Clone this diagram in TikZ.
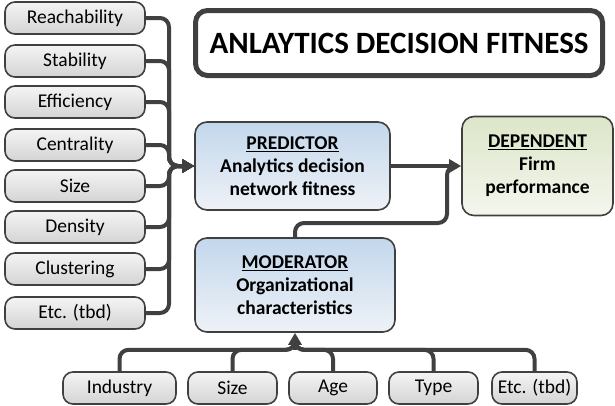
\documentclass[tikz,border=0pt]{standalone}
\usepackage{fontspec}
\setmainfont{Carlito}
\usetikzlibrary{arrows.meta, positioning}

\definecolor{edgegray}{HTML}{404040}
\definecolor{itemtop}{HTML}{F4F4F4}
\definecolor{itembot}{HTML}{D4D4D4}
\definecolor{bluetop}{HTML}{C3D7EC}
\definecolor{bluebot}{HTML}{EEF2F7}
\definecolor{greentop}{HTML}{DCE6C8}
\definecolor{greenbot}{HTML}{F4F6EE}

\begin{document}
\begin{tikzpicture}[x=1pt,y=-1pt,>={Triangle[length=12pt,width=13pt]},
    item/.style={draw=edgegray,line width=1.6pt,rounded corners=10pt,
        top color=itemtop,bottom color=itembot,
        minimum width=140pt,minimum height=32pt,inner sep=0pt,
        font=\fontsize{19.5}{23}\selectfont},
    factor/.style={draw=edgegray,line width=1.6pt,rounded corners=12pt,
        align=center,inner sep=0pt,font=\bfseries\fontsize{19.5}{23}\selectfont},
    link/.style={draw=edgegray,line width=4pt,rounded corners=9pt}]

  \useasboundingbox (0,0) rectangle (615,405);

  % heading
  \node[draw=edgegray,line width=5pt,rounded corners=12pt,fill=white,
        minimum width=407pt,minimum height=65pt,
        font=\bfseries\fontsize{31}{36}\selectfont] (title) at (399,43)
        {ANLAYTICS DECISION FITNESS};

  % network measures
  \node[item] (reach)   at (75,18)  {Reachability};
  \node[item] (stab)    at (75,61)  {Stability};
  \node[item] (effic)   at (75,102) {Efficiency};
  \node[item] (centr)   at (75,145) {Centrality};
  \node[item] (netsize) at (75,186) {Size};
  \node[item] (dens)    at (75,227) {Density};
  \node[item] (clust)   at (75,269) {Clustering};
  \node[item] (netetc)  at (75,313) {Etc. (tbd)};

  % model boxes
  \node[factor,top color=bluetop,bottom color=bluebot,
        minimum width=195pt,minimum height=88pt] (pred) at (292.5,166)
        {\underline{PREDICTOR}\\Analytics decision\\network fitness};
  \node[factor,top color=greentop,bottom color=greenbot,
        minimum width=151pt,minimum height=99pt] (dep) at (537.5,166)
        {\underline{DEPENDENT}\\Firm\\performance};
  \node[factor,top color=bluetop,bottom color=bluebot,
        minimum width=200pt,minimum height=94pt] (mod) at (295,285)
        {\underline{MODERATOR}\\Organizational\\characteristics};

  % organisation attributes
  \node[item,minimum width=113pt] (ind)     at (119.5,388) {Industry};
  \node[item,minimum width=89pt]  (orgsize) at (232.5,388) {Size};
  \node[item,minimum width=88pt]  (age)     at (333,388)   {Age};
  \node[item,minimum width=89pt]  (type)    at (433.5,388) {Type};
  \node[item,minimum width=85pt]  (orgetc)  at (534.5,388) {Etc. (tbd)};

  % join points of the buses
  \coordinate (ljoin) at (169,166);
  \coordinate[below=17pt of mod.south] (bjoin);
  \coordinate (mjoin) at (447,223);

  \foreach \n in {reach,stab,effic,centr,netsize,dens,clust,netetc}
    \draw[link,->] (\n.east) -| (ljoin) -- (pred.west);

  \foreach \n in {ind,orgsize,age,type,orgetc}
    \draw[link] (\n.north) |- (bjoin) -- ++(0,-9);
  \draw[link,->] (bjoin) -- (mod.south);

  \draw[link,->] (pred.east) -- (dep.west);
  \draw[link] (mod.north) |- (mjoin) |- ([xshift=-4pt]dep.west);
\end{tikzpicture}
\end{document}
